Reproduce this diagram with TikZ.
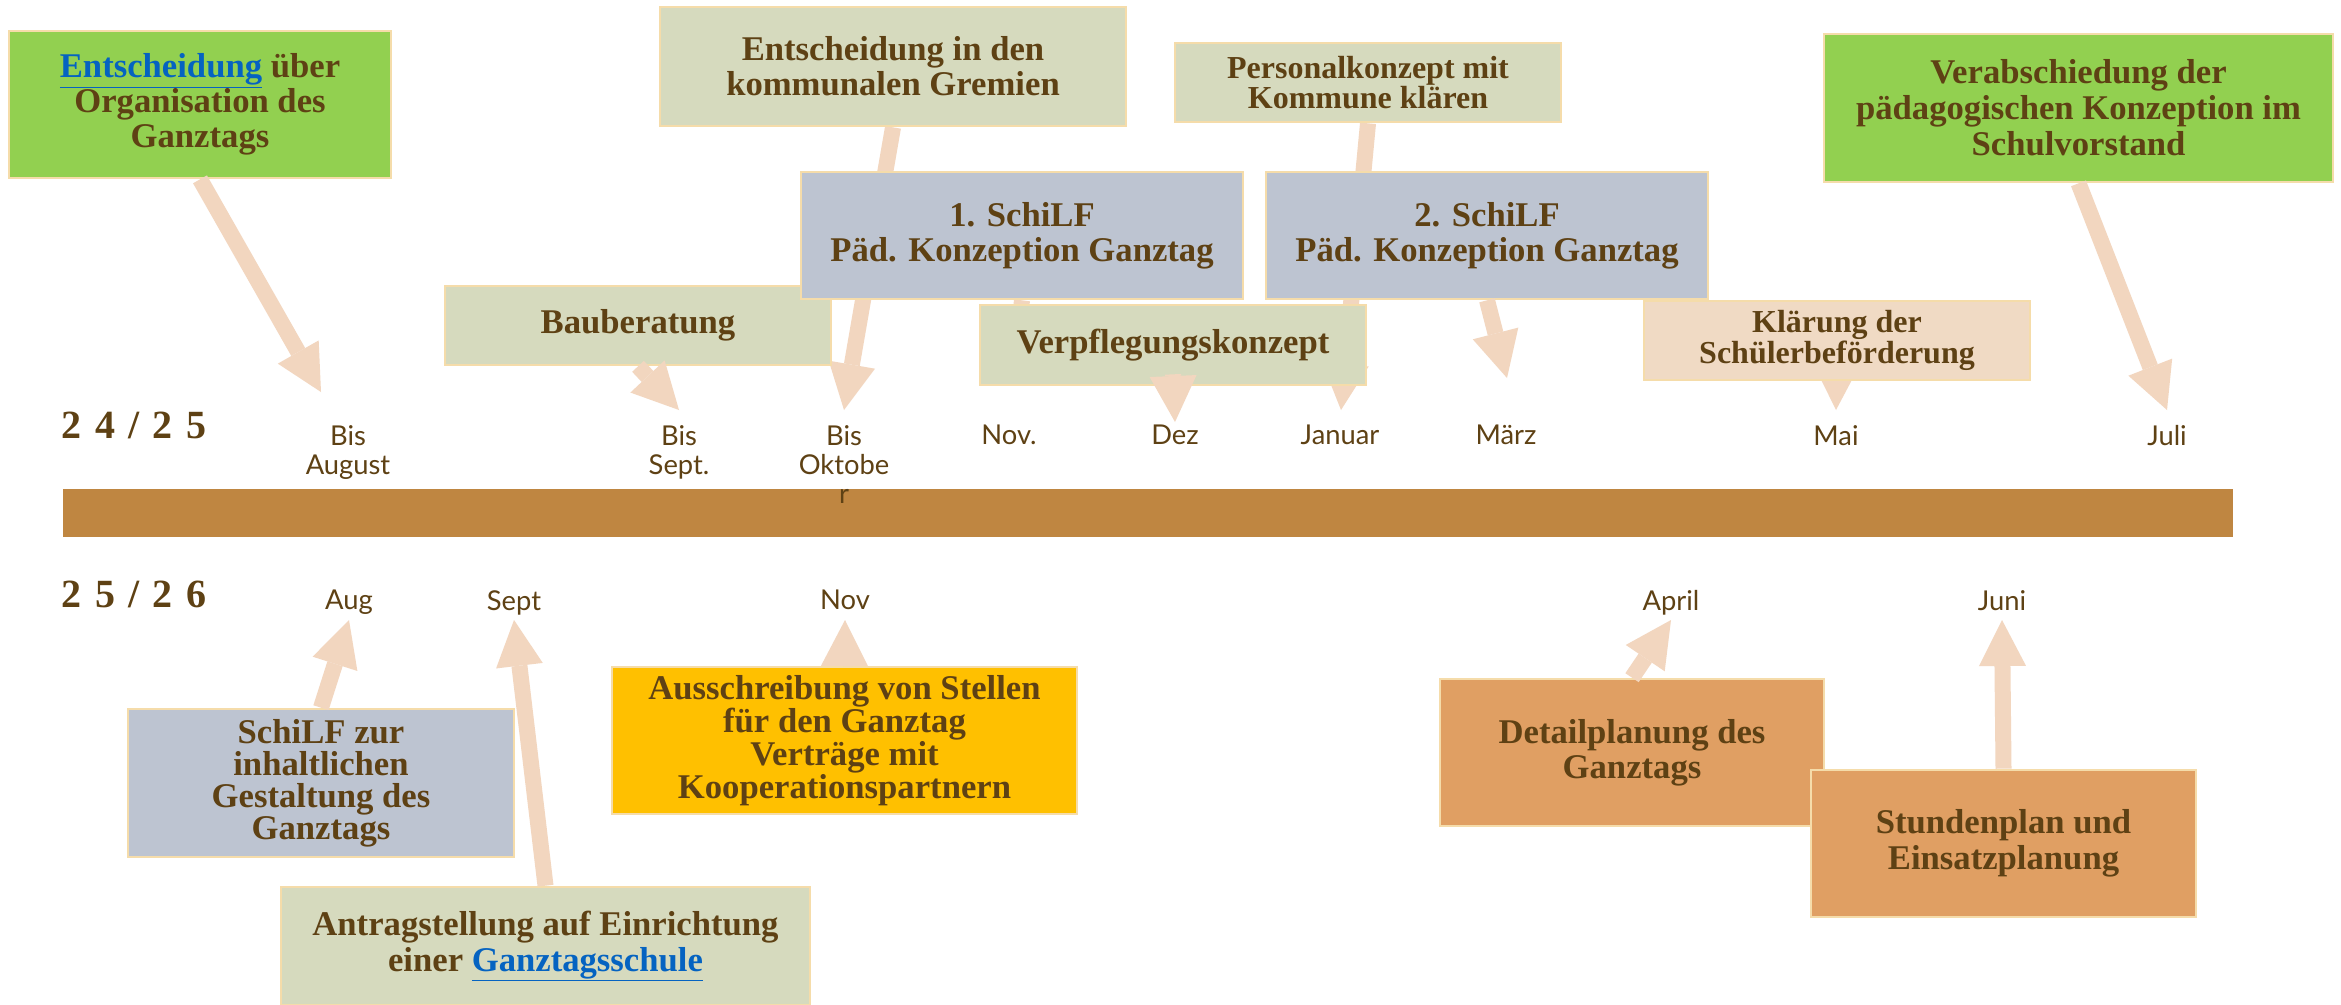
\documentclass[tikz,border=0pt]{standalone}
\usepackage{fontspec}
\setmainfont{Liberation Serif}
\newfontfamily\monthfont{Lato}
\usetikzlibrary{arrows.meta}
\definecolor{txtc}{RGB}{94,65,20}
\definecolor{linkc}{RGB}{5,99,193}
\definecolor{bordc}{RGB}{245,220,170}
\definecolor{arrc}{RGB}{242,214,191}
\definecolor{greenc}{RGB}{146,208,80}
\definecolor{sagec}{RGB}{214,218,190}
\definecolor{bluec}{RGB}{189,196,209}
\definecolor{peachc}{RGB}{240,218,196}
\definecolor{goldc}{RGB}{255,192,0}
\definecolor{orangec}{RGB}{224,159,99}
\definecolor{barc}{RGB}{191,134,65}
\pgfdeclarelayer{bg}
\pgfsetlayers{bg,main}
\tikzset{
  box/.style={draw=bordc, line width=2pt, align=center, text=txtc, inner sep=2pt,
    font=\bfseries\fontsize{26}{26.25}\selectfont},
  month/.style={text=txtc, font=\monthfont\fontsize{20.5}{21.75}\selectfont,
    align=center, inner sep=0pt, anchor=north},
  year/.style={text=txtc, font=\bfseries\fontsize{30}{32}\selectfont, inner sep=0pt},
  bigarrow/.style={draw=arrc, line width=12pt,
    -{Triangle[length=34.5pt,width=35.25pt,line width=0pt]}},
}
\newcommand{\linktxt}[1]{{\color{linkc}\underline{#1}}}
\newcommand{\yeartxt}[5]{#1\kern10pt#2\kern10pt#3\kern10pt#4\kern10pt#5}
\begin{document}
\begin{tikzpicture}[x=0.75pt,y=-0.75pt]
\useasboundingbox (0,0) rectangle (2341,1004);
\clip (0,0) rectangle (2341,1004);
\begin{pgfonlayer}{bg}
\fill[white] (0,0) rectangle (2341,1004);
\node[fill=barc, minimum width=1627.5pt, minimum height=36pt, inner sep=0pt] (bar) at (1148,513) {};
\end{pgfonlayer}

% years
\node[year] (y1) at (134,425) {\yeartxt 24/25};
\node[year] (y2) at (134,594) {\yeartxt 25/26};

% top boxes
\node[box, fill=greenc, minimum width=286.5pt, minimum height=110.25pt] (A) at (200,104.5)
  {\linktxt{Entscheidung} über\\Organisation des\\Ganztags};
\node[box, fill=sagec, minimum width=349.5pt, minimum height=89.25pt] (B) at (893,66.5)
  {Entscheidung in den\\kommunalen Gremien};
\node[box, fill=sagec, minimum width=289.5pt, minimum height=59.25pt,
  font=\bfseries\fontsize{24}{21}\selectfont] (C) at (1368,82.5)
  {Personalkonzept mit\\Kommune klären};
\node[box, fill=sagec, minimum width=289.5pt, minimum height=59.25pt] (F) at (638,325.5)
  {Bauberatung};
\node[box, fill=bluec, minimum width=331.5pt, minimum height=95.25pt] (D) at (1022,235.5)
  {1. SchiLF\\Päd. Konzeption Ganztag};
\node[box, fill=bluec, minimum width=331.5pt, minimum height=95.25pt] (E) at (1487,235.5)
  {2. SchiLF\\Päd. Konzeption Ganztag};
\node[box, fill=sagec, minimum width=289.5pt, minimum height=60pt] (G) at (1173,345)
  {Verpflegungskonzept};
\node[box, fill=peachc, minimum width=289.5pt, minimum height=59.25pt,
  font=\bfseries\fontsize{24}{21.75}\selectfont] (H) at (1837,340.5)
  {Klärung der\\Schülerbeförderung};
\node[box, fill=greenc, minimum width=381.75pt, minimum height=111pt,
  font=\bfseries\fontsize{26}{27}\selectfont] (I) at (2078.5,108)
  {Verabschiedung der\\pädagogischen Konzeption im\\Schulvorstand};

% bottom boxes
\node[box, fill=bluec, minimum width=289.5pt, minimum height=111pt,
  font=\bfseries\fontsize{26}{24}\selectfont] (J) at (321,783)
  {SchiLF zur\\inhaltlichen\\Gestaltung des\\Ganztags};
\node[box, fill=sagec, minimum width=396.75pt, minimum height=88.5pt,
  font=\bfseries\fontsize{26}{27}\selectfont] (K) at (545.5,946)
  {Antragstellung auf Einrichtung\\einer \linktxt{Ganztagsschule}};
\node[box, fill=goldc, minimum width=348.75pt, minimum height=110.25pt,
  font=\bfseries\fontsize{26}{23.25}\selectfont] (L) at (844.5,740.5)
  {Ausschreibung von Stellen\\für den Ganztag\\Verträge mit\\Kooperationspartnern};
\node[box, fill=orangec, minimum width=288pt, minimum height=110.25pt] (M) at (1632,752.5)
  {Detailplanung des\\Ganztags};
\node[box, fill=orangec, minimum width=288.75pt, minimum height=110.25pt,
  font=\bfseries\fontsize{26}{27}\selectfont] (N) at (2003.5,843.5)
  {Stundenplan und\\Einsatzplanung};

% month labels
\node[month] (mAug) at (348,425) {Bis\\August};
\node[month] (mSep) at (679,425) {Bis\\Sept.};
\node[month] (mOkt) at (844,425) {Bis\\Oktobe\\r};
\node[month] (mNov) at (1009,425) {Nov.};
\node[month] (mDez) at (1175,425) {Dez};
\node[month] (mJan) at (1340,425) {Januar};
\node[month] (mMar) at (1506,425) {März};
\node[month] (mMai) at (1836,425) {Mai};
\node[month] (mJul) at (2167,425) {Juli};
\node[month] (bAug) at (349,590) {Aug};
\node[month] (bSep) at (514,590) {Sept};
\node[month] (bNov) at (845,590) {Nov};
\node[month] (bApr) at (1671,590) {April};
\node[month] (bJun) at (2002,590) {Juni};

% arrow tips
\coordinate (tA) at (321,392);
\coordinate (tF) at (679,410);
\coordinate (tB) at (844,410);
\coordinate (tD) at (1012,382);
\coordinate (tC) at (1341,410);
\coordinate (tG) at (1175,422);
\coordinate (tE) at (1507,378);
\coordinate (tH) at (1836,410);
\coordinate (tI) at (2167,410);
\coordinate (tJ) at (349,620);
\coordinate (tK) at (514,620);
\coordinate (tL) at (845,620);
\coordinate (tM) at (1671,620);
\coordinate (tN) at (2002,620);

% arrows behind boxes
\begin{pgfonlayer}{bg}
\draw[bigarrow] (B.south) -- (tB);
\draw[bigarrow] (D.south) -- (tD);
\draw[bigarrow] (C.south) -- (tC);
\draw[bigarrow] (H.center) -- (tH);
\end{pgfonlayer}

% arrows in front
\draw[bigarrow] (A.south) -- (tA);
\draw[bigarrow] (F.south) -- (tF);
\draw[bigarrow] ([yshift=9pt]G.south) -- (tG);
\draw[bigarrow] (E.south) -- (tE);
\draw[bigarrow] (I.south) -- (tI);
\draw[bigarrow] (J.north) -- (tJ);
\draw[bigarrow] (K.north) -- (tK);
\draw[bigarrow] (L.north) -- (tL);
\draw[bigarrow] (M.north) -- (tM);
\draw[bigarrow] (N.north) -- (tN);
\end{tikzpicture}
\end{document}
